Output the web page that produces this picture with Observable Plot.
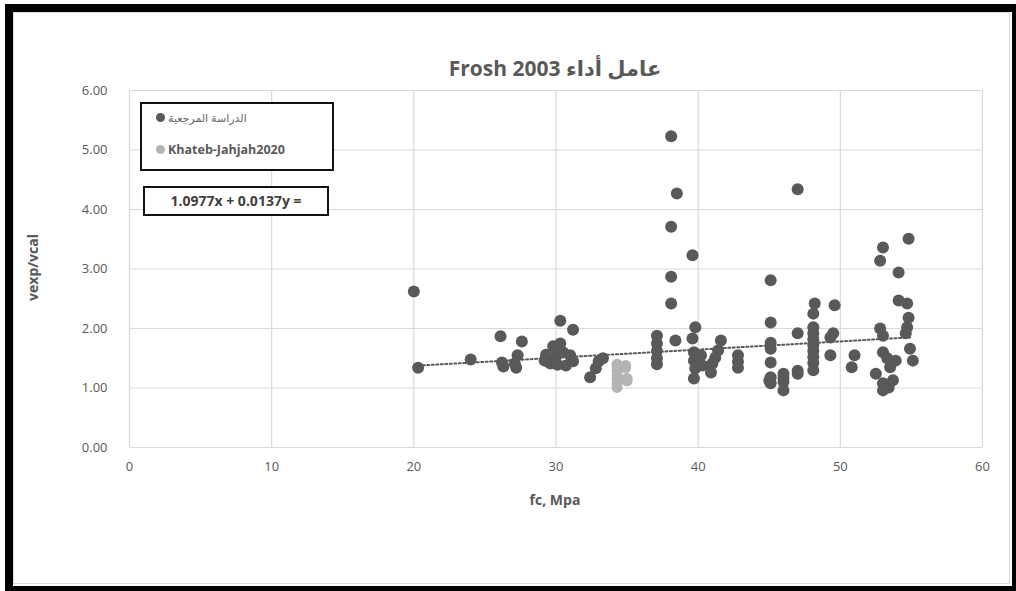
<!DOCTYPE html>
<html>
<head>
<meta charset="utf-8">
<script src="https://cdn.jsdelivr.net/npm/d3@7"></script>
<script src="https://cdn.jsdelivr.net/npm/@observablehq/plot@0.6"></script>
<style>
  html, body { margin: 0; padding: 0; background: #fff; }
  #frame {
    position: absolute; left: 5px; top: 4px; width: 999px; height: 574px;
    border-style: solid; border-color: #000;
    border-width: 8px 4px 5px 8px;
  }
  #inner {
    position: absolute; left: 13px; top: 12px; width: 997px; height: 572px;
    border: 1px solid #d9d9d9; box-sizing: border-box;
  }
  #chart { position: absolute; left: 0; top: 0; }
  .txt { position: absolute; font-family: "Open Sans", "DejaVu Sans", sans-serif; color: #595959; white-space: nowrap; }
  #title { left: 355px; width: 400px; top: 54px; text-align: center; font-size: 21px; font-weight: 700; }
  #xlabel { left: 455px; width: 200px; top: 490px; text-align: center; font-size: 14px; font-weight: 700; }
  #ylabel { left: -68px; width: 200px; top: 258px; text-align: center; font-size: 14px; font-weight: 700; transform: rotate(-90deg); }
  #legend {
    position: absolute; left: 140px; top: 102px; width: 190px; height: 65px;
    border: 2px solid #111; background: #fff;
    font-family: "Open Sans", "DejaVu Sans", sans-serif;
  }
  .item { position: absolute; left: 14px; display: flex; align-items: center; }
  .sw { width: 9px; height: 9px; border-radius: 50%; margin-right: 3px; }
  #eq {
    position: absolute; left: 143px; top: 186px; width: 182px; height: 26px;
    border: 2px solid #111; background: #fff;
    font-family: "Open Sans", "DejaVu Sans", sans-serif; font-size: 14px; font-weight: 700;
    color: #404040; text-align: center; line-height: 26px; white-space: nowrap;
  }
</style>
</head>
<body>
<div id="frame"></div>
<div id="inner"></div>
<div id="chart"></div>
<div class="txt" id="title">Frosh 2003 <span dir="rtl">عامل أداء</span></div>
<div class="txt" id="xlabel">fc, Mpa</div>
<div class="txt" id="ylabel">vexp/vcal</div>
<div id="legend">
  <div class="item" style="top:6px;"><span class="sw" style="background:#595959"></span><span dir="rtl" style="font-size:11px;color:#666;">الدراسة المرجعية</span></div>
  <div class="item" style="top:37px;"><span class="sw" style="background:#b4b4b4"></span><span style="font-size:12.5px;font-weight:700;color:#595959;">Khateb-Jahjah2020</span></div>
</div>
<div id="eq">1.0977x + 0.0137y =</div>
<script>
// Reference study: concrete strength fc (MPa) and shear ratio vexp/vcal
const refFc = [
  20.0, 20.3, 24.0,
  26.1, 26.2, 26.3, 27.1, 27.3, 27.6, 27.2,
  29.2, 29.3, 29.6, 29.8, 30.0, 30.1, 30.3, 30.3, 30.5, 30.7, 31.0, 31.2, 31.2,
  32.4, 32.8, 33.0, 33.3,
  37.1, 37.1, 37.1, 37.1, 37.1, 38.4, 38.1, 38.5, 38.1, 38.1, 38.1, 39.6,
  39.8, 39.6, 39.7, 39.7, 40.2, 39.8, 39.7, 40.3,
  41.6, 41.4, 41.2, 41.0, 40.9, 42.8, 42.8, 42.8,
  45.1, 45.1, 45.1, 45.1, 45.1, 45.1, 45.1, 45.0, 46.0, 46.0, 46.0, 46.0, 47.0, 47.0, 47.0, 47.0,
  48.2, 48.1, 48.1, 48.1, 48.1, 48.1, 48.1, 48.1, 48.1, 48.1,
  49.6, 49.5, 49.3, 49.3, 51.0, 50.8,
  54.8, 53.0, 52.8, 54.1, 54.1, 54.7, 54.8, 54.7, 54.6, 52.8, 53.0, 53.0, 53.3, 53.9, 54.9, 55.1,
  52.5, 53.0, 53.4, 53.0, 53.7, 53.5
];
const refRatio = [
  2.62, 1.34, 1.48,
  1.87, 1.43, 1.36, 1.41, 1.55, 1.78, 1.34,
  1.46, 1.56, 1.41, 1.70, 1.53, 1.39, 1.75, 2.13, 1.60, 1.38, 1.55, 1.98, 1.45,
  1.18, 1.33, 1.45, 1.50,
  1.88, 1.75, 1.62, 1.50, 1.40, 1.80, 5.23, 4.27, 3.71, 2.87, 2.42, 3.23,
  2.02, 1.83, 1.60, 1.46, 1.55, 1.33, 1.16, 1.38,
  1.80, 1.63, 1.51, 1.41, 1.26, 1.55, 1.44, 1.34,
  2.81, 2.10, 1.76, 1.66, 1.43, 1.18, 1.08, 1.12, 1.24, 1.10, 0.96, 1.17, 4.34, 1.92, 1.29, 1.24,
  2.42, 2.25, 2.02, 1.92, 1.82, 1.72, 1.62, 1.52, 1.42, 1.30,
  2.39, 1.92, 1.85, 1.55, 1.55, 1.35,
  3.51, 3.36, 3.14, 2.94, 2.47, 2.42, 2.18, 2.02, 1.92, 2.00, 1.88, 1.60, 1.50, 1.46, 1.66, 1.46,
  1.24, 1.08, 1.01, 0.96, 1.13, 1.35
];

// Khateb-Jahjah 2020 specimens
const khFc = [34.3, 34.3, 34.3, 34.3, 34.3, 34.3, 34.3, 34.9, 34.9, 35.0, 35.0];
const khRatio = [1.01, 1.08, 1.15, 1.22, 1.29, 1.36, 1.40, 1.38, 1.34, 1.16, 1.12];

// Linear trend of the reference study
const slope = 0.0137;
const intercept = 1.0977;
const trendRange = [20, 55];

const xTicks = [0, 10, 20, 30, 40, 50, 60];
const yTicks = [0, 1, 2, 3, 4, 5, 6];

const refData = refFc.map((x, i) => ({x, y: refRatio[i]}));
const khData = khFc.map((x, i) => ({x, y: khRatio[i]}));
const trend = d3.range(trendRange[0], trendRange[1] + 0.01, 0.5).map(x => ({x, y: intercept + slope * x}));

const plot = Plot.plot({
  width: 1016,
  height: 591,
  marginLeft: 129,
  marginRight: 34,
  marginTop: 90,
  marginBottom: 144,
  style: {background: "transparent", fontFamily: "'Open Sans', 'DejaVu Sans', sans-serif", fontSize: "13px", color: "#595959"},
  x: {domain: [0, 60], ticks: xTicks, tickSize: 0, tickPadding: 14, label: null},
  y: {domain: [0, 6], ticks: yTicks, tickSize: 0, tickPadding: 22, tickFormat: d => d.toFixed(2), label: null},
  marks: [
    Plot.ruleY(yTicks, {stroke: "#d9d9d9", strokeWidth: 1.2}),
    Plot.ruleX(xTicks, {stroke: "#d9d9d9", strokeWidth: 1.2}),
    Plot.axisX({ticks: xTicks, tickSize: 0, tickPadding: 14, fill: "#595959", fontSize: 13}),
    Plot.axisY({ticks: yTicks, tickSize: 0, tickPadding: 22, tickFormat: d => d.toFixed(2), fill: "#595959", fontSize: 13}),
    Plot.dot(refData, {x: "x", y: "y", r: 6, fill: "#595959", stroke: "none"}),
    Plot.dot(khData, {x: "x", y: "y", r: 5.5, fill: "#b4b4b4", stroke: "none"}),
    Plot.line(trend, {x: "x", y: "y", stroke: "#595959", strokeWidth: 2, strokeDasharray: "2,2.5"})
  ]
});
document.getElementById("chart").appendChild(plot);
</script>
</body>
</html>
